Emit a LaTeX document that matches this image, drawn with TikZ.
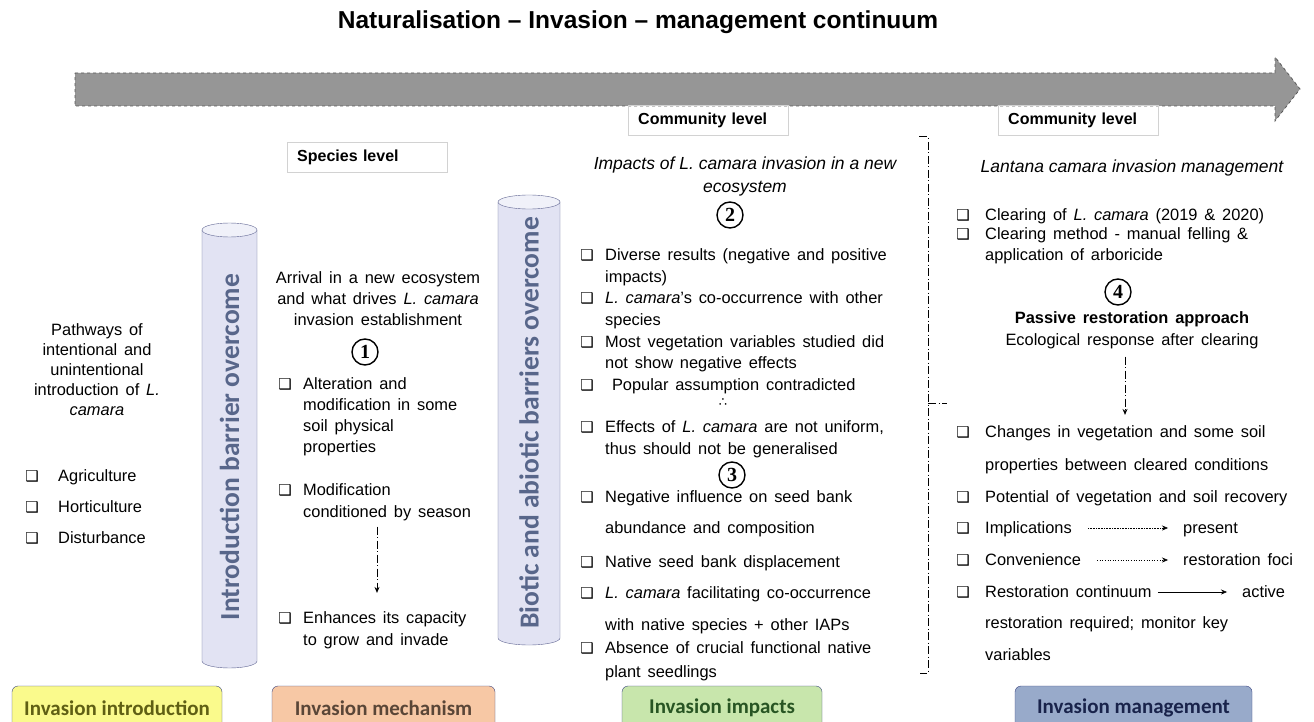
\documentclass[tikz,border=0pt]{standalone}
\usepackage{fontspec}
\setmainfont[WordSpace=1.5]{Liberation Sans}
\newfontfamily\plainfont{Liberation Sans}
\newfontfamily\calfont{Carlito}
\newfontfamily\symfont{DejaVu Sans}
\newfontfamily\numfont{Liberation Serif}
\usetikzlibrary{arrows.meta}

\definecolor{arrowgray}{RGB}{150,150,150}
\definecolor{cylfill}{RGB}{226,227,243}
\definecolor{cyledge}{RGB}{95,100,145}
\definecolor{cyltext}{RGB}{88,102,138}
\definecolor{stageedge}{RGB}{60,70,130}
\definecolor{introfill}{RGB}{250,250,140}
\definecolor{introtext}{RGB}{95,95,20}
\definecolor{mechfill}{RGB}{247,200,165}
\definecolor{mechtext}{RGB}{90,70,55}
\definecolor{impfill}{RGB}{200,230,172}
\definecolor{imptext}{RGB}{40,85,35}
\definecolor{manfill}{RGB}{152,170,202}
\definecolor{mantext}{RGB}{25,35,75}

\newcommand{\chkbox}{\char"2751}

\tikzset{
  txt/.style={inner sep=0pt, font=\fontsize{16.4}{19}\selectfont},
  chk/.style={inner sep=0pt, font=\fontsize{15}{15}\symfont},
  head/.style={inner sep=0pt, font=\fontsize{17.5}{20}\plainfont\itshape},
  level/.style={draw=gray!35, inner xsep=10pt, inner ysep=0pt, minimum height=30pt,
    text width=140pt, align=left, font=\fontsize{16}{19}\plainfont\bfseries},
  num/.style={circle, draw, line width=1.4pt, inner sep=0pt, minimum size=26pt,
    font=\fontsize{20}{20}\numfont\bfseries},
  cyllabel/.style={rotate=90, text=cyltext, font=\fontsize{27.5}{27.5}\calfont\bfseries},
  stage/.style={draw=stageedge, rounded corners=6pt, minimum height=44pt,
    font=\fontsize{21}{21}\calfont\bfseries},
  dda/.style={dash pattern=on 8pt off 2.5pt on 1pt off 2.5pt, line width=1pt,
    -{Stealth[length=6pt,width=5pt]}},
  brk/.style={dash pattern=on 8pt off 2.5pt on 1pt off 2.5pt, line width=1pt},
  thinarr/.style={line width=0.6pt, -{Stealth[length=6pt,width=5pt]}}
}

\begin{document}
\begin{tikzpicture}[x=1pt,y=-1pt]
\useasboundingbox[fill=white] (0,0) rectangle (1314,722);

% title and continuum arrow
\node[inner sep=0pt, font=\fontsize{24.5}{24.5}\plainfont\bfseries] (title) at (638,22)
  {Naturalisation – Invasion – management continuum};
\draw[fill=arrowgray, draw=gray!70!black, dashed, line width=0.8pt]
  (75,73) -- (1275,73) -- (1275,57) -- (1300,89) -- (1275,121) -- (1275,106) -- (75,106) -- cycle;

% level boxes
\node[level, anchor=west] (species) at (287,157) {Species level};
\node[level, anchor=west] (comm1) at (628,120) {Community level};
\node[level, anchor=west] (comm2) at (998,120) {Community level};

% cylinders
\fill[cylfill] (202,230) -- (202,661) arc[start angle=180,end angle=360,x radius=27.5pt,y radius=7pt] -- (257,230) -- cycle;
\draw[cyledge] (202,230) -- (202,661) arc[start angle=180,end angle=360,x radius=27.5pt,y radius=7pt] -- (257,230);
\draw[cyledge, fill=cylfill!50] (229.5,230) ellipse [x radius=27.5pt, y radius=7pt];
\node[cyllabel] (cyl1) at (229.5,447) {Introduction barrier overcome};

\fill[cylfill] (498,202) -- (498,638) arc[start angle=180,end angle=360,x radius=31pt,y radius=7pt] -- (560,202) -- cycle;
\draw[cyledge] (498,202) -- (498,638) arc[start angle=180,end angle=360,x radius=31pt,y radius=7pt] -- (560,202);
\draw[cyledge, fill=cylfill!50] (529,202) ellipse [x radius=31pt, y radius=7pt];
\node[cyllabel] (cyl2) at (529,423) {Biotic and abiotic barriers overcome};

% introduction
\node[txt, anchor=base] (path1) at (97,335) {Pathways of};
\node[txt, anchor=base] (path2) at (97,355) {intentional and};
\node[txt, anchor=base] (path3) at (97,375) {unintentional};
\node[txt, anchor=base] (path4) at (97,395) {introduction of \textit{L.}};
\node[txt, anchor=base] (path5) at (97,415) {\textit{camara}};
\node[chk, anchor=base] (ckagri) at (32,481) {\chkbox};
\node[txt, anchor=base west] (agri) at (58,481) {Agriculture};
\node[chk, anchor=base] (ckhort) at (32,512) {\chkbox};
\node[txt, anchor=base west] (hort) at (58,512) {Horticulture};
\node[chk, anchor=base] (ckdist) at (32,543) {\chkbox};
\node[txt, anchor=base west] (dist) at (58,543) {Disturbance};

% mechanism
\node[txt, anchor=base] (arr1) at (378,283) {Arrival in a new ecosystem};
\node[txt, anchor=base] (arr2) at (378,304) {and what drives \textit{L. camara}};
\node[txt, anchor=base] (arr3) at (378,325) {invasion establishment};
\node[num] (num1) at (365,352) {1};
\node[chk, anchor=base] (ckalt) at (285,389) {\chkbox};
\node[txt, anchor=base west] (alt1) at (303,389) {Alteration and};
\node[txt, anchor=base west] (alt2) at (303,410) {modification in some};
\node[txt, anchor=base west] (alt3) at (303,431) {soil physical};
\node[txt, anchor=base west] (alt4) at (303,452) {properties};
\node[chk, anchor=base] (ckmod) at (285,495) {\chkbox};
\node[txt, anchor=base west] (mod1) at (303,495) {Modification};
\node[txt, anchor=base west] (mod2) at (303,517) {conditioned by season};
\node[chk, anchor=base] (ckenh) at (285,623) {\chkbox};
\node[txt, anchor=base west] (enh1) at (303,623) {Enhances its capacity};
\node[txt, anchor=base west] (enh2) at (303,645) {to grow and invade};
\coordinate (mechx) at (377,0);
\draw[dda] ([yshift=-6pt]mod2.south -| mechx) -- ([yshift=18pt]enh1.north -| mechx);

% impacts
\node[head, anchor=base] (imph1) at (745,170) {Impacts of L. camara invasion in a new};
\node[head, anchor=base] (imph2) at (745,193) {ecosystem};
\node[num] (num2) at (730,215) {2};
\node[chk, anchor=base] (ckdiv) at (587,260) {\chkbox};
\node[txt, anchor=base west] (div1) at (605,260) {Diverse results (negative and positive};
\node[txt, anchor=base west] (div2) at (605,282) {impacts)};
\node[chk, anchor=base] (ckcoo) at (587,303) {\chkbox};
\node[txt, anchor=base west] (coo1) at (605,303) {\textit{L. camara}'s co-occurrence with other};
\node[txt, anchor=base west] (coo2) at (605,325) {species};
\node[chk, anchor=base] (ckveg) at (587,347) {\chkbox};
\node[txt, anchor=base west] (veg1) at (605,347) {Most vegetation variables studied did};
\node[txt, anchor=base west] (veg2) at (605,368) {not show negative effects};
\node[chk, anchor=base] (ckpop) at (587,390) {\chkbox};
\node[txt, anchor=base west] (pop) at (605,390) {\ Popular assumption contradicted};
\node[inner sep=0pt, font=\fontsize{13}{13}\symfont] (therefore) at (723,403) {∴};
\node[chk, anchor=base] (ckeff) at (587,432) {\chkbox};
\node[txt, anchor=base west] (eff1) at (605,432) {Effects of \textit{L. camara} are not uniform,};
\node[txt, anchor=base west] (eff2) at (605,454) {thus should not be generalised};
\node[num] (num3) at (732,475) {3};
\node[chk, anchor=base] (ckneg) at (587,502) {\chkbox};
\node[txt, anchor=base west] (neg1) at (605,502) {Negative influence on seed bank};
\node[txt, anchor=base west] (neg2) at (605,533) {abundance and composition};
\node[chk, anchor=base] (ckdis) at (587,567) {\chkbox};
\node[txt, anchor=base west] (dis) at (605,567) {Native seed bank displacement};
\node[chk, anchor=base] (ckfac) at (587,598) {\chkbox};
\node[txt, anchor=base west] (fac1) at (605,598) {\textit{L. camara} facilitating co-occurrence};
\node[txt, anchor=base west] (fac2) at (605,630) {with native species + other IAPs};
\node[chk, anchor=base] (ckabs) at (587,653) {\chkbox};
\node[txt, anchor=base west] (abs1) at (605,653) {Absence of crucial functional native};
\node[txt, anchor=base west] (abs2) at (605,677) {plant seedlings};

% bracket between impacts and management
\draw[brk] (919,137) -- (928,137) -- (928,673) -- (920,673);
\draw[brk] (928,403) -- (947,403);

% management
\node[head, anchor=base] (manh) at (1132,173) {Lantana camara invasion management};
\node[chk, anchor=base] (ckclr) at (963,220) {\chkbox};
\node[txt, anchor=base west] (clr) at (985,220) {Clearing of \textit{L. camara} (2019 \& 2020)};
\node[chk, anchor=base] (ckmet) at (963,240) {\chkbox};
\node[txt, anchor=base west] (met1) at (985,240) {Clearing method - manual felling \&};
\node[txt, anchor=base west] (met2) at (985,260) {application of arboricide};
\node[num] (num4) at (1118,292) {4};
\node[txt, anchor=base, font=\fontsize{16.4}{19}\selectfont\bfseries] (pass) at (1132,323) {Passive restoration approach};
\node[txt, anchor=base] (eco) at (1132,345) {Ecological response after clearing};
\node[chk, anchor=base] (ckchg) at (963,437) {\chkbox};
\node[txt, anchor=base west] (chg1) at (985,437) {Changes in vegetation and some soil};
\node[txt, anchor=base west] (chg2) at (985,470) {properties between cleared conditions};
\node[chk, anchor=base] (ckpot) at (963,502) {\chkbox};
\node[txt, anchor=base west] (pot) at (985,502) {Potential of vegetation and soil recovery};
\node[chk, anchor=base] (ckimp) at (963,533) {\chkbox};
\node[txt, anchor=base west] (impl) at (985,533) {Implications};
\node[txt, anchor=base west] (pres) at (1183,533) {present};
\node[chk, anchor=base] (ckcon) at (963,565) {\chkbox};
\node[txt, anchor=base west] (conv) at (985,565) {Convenience};
\node[txt, anchor=base west] (foci) at (1183,565) {restoration foci};
\node[chk, anchor=base] (ckres) at (963,597) {\chkbox};
\node[txt, anchor=base west] (rcont) at (985,597) {Restoration continuum};
\node[txt, anchor=base west] (act) at (1242,597) {active};
\node[txt, anchor=base west] (req) at (985,628) {restoration required; monitor key};
\node[txt, anchor=base west] (vars) at (985,660) {variables};
\coordinate (manx) at (1125,0);
\draw[dda] ([yshift=-8pt]eco.south -| manx) -- ([yshift=10pt]chg1.north -| manx);
\draw[thinarr, densely dotted] ([xshift=16pt,yshift=5pt]impl.base east) -- ([xshift=-15pt,yshift=5pt]pres.base west);
\draw[thinarr, dotted] ([xshift=16pt,yshift=5pt]conv.base east) -- ([xshift=-15pt,yshift=5pt]foci.base west);
\draw[thinarr] ([xshift=6pt,yshift=5pt]rcont.base east) -- ([xshift=-15pt,yshift=5pt]act.base west);

% stages
\node[stage, fill=introfill, text=introtext, minimum width=210pt] (intro) at (117,708) {Invasion introduction};
\node[stage, fill=mechfill, text=mechtext, minimum width=223pt] (mech) at (383.5,708) {Invasion mechanism};
\node[stage, fill=impfill, text=imptext, minimum width=200pt] (imp) at (722,708) {Invasion impacts};
\node[stage, fill=manfill, text=mantext, minimum width=237pt] (man) at (1133.5,708) {Invasion management};
\end{tikzpicture}
\end{document}
